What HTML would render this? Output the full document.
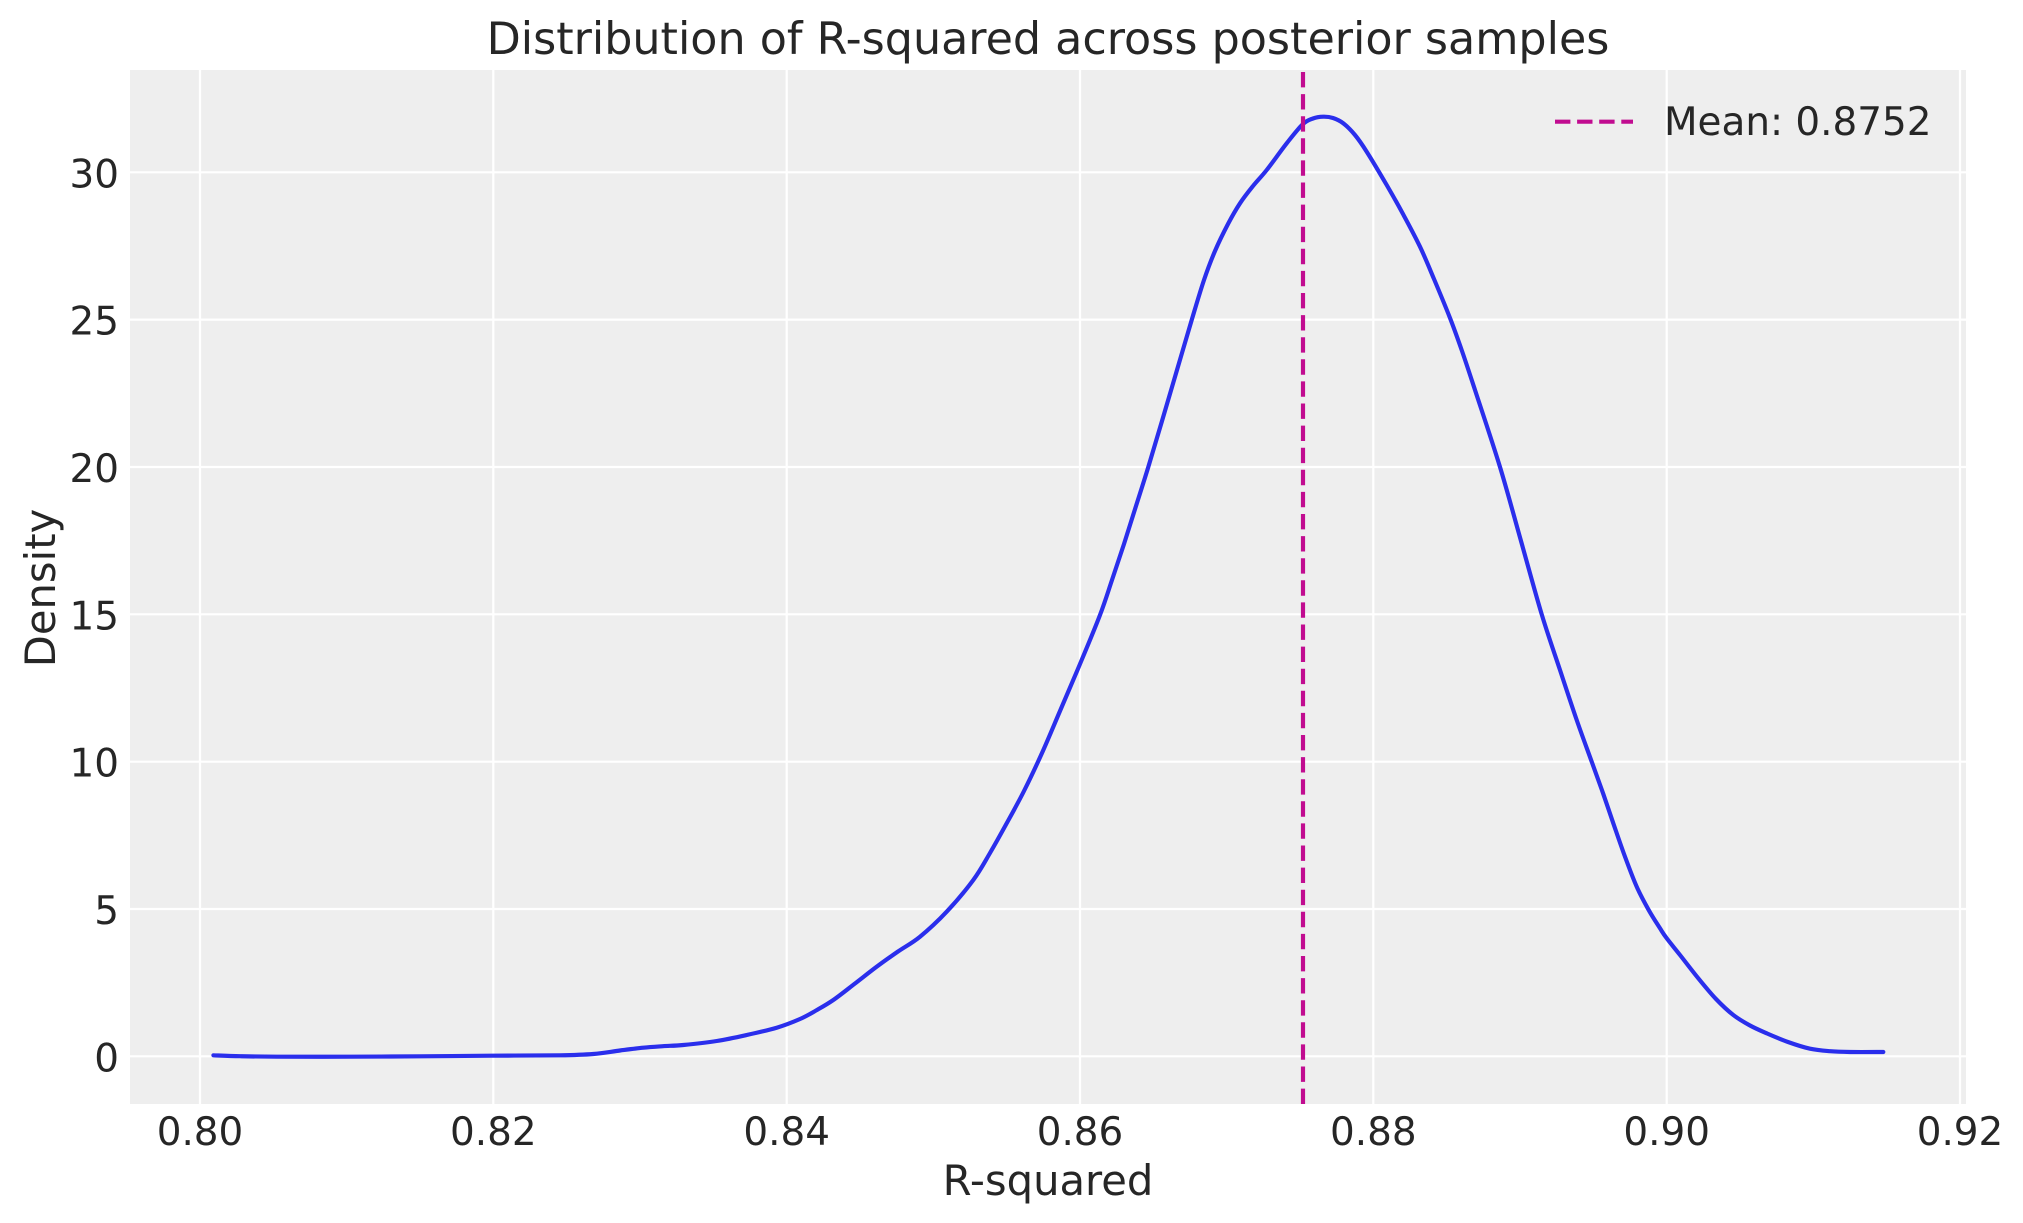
<!DOCTYPE html>
<html>
<head>
<meta charset="utf-8">
<style>
  html, body { margin: 0; padding: 0; background: #ffffff; }
  svg { display: block; }
  text { font-family: "DejaVu Sans", "Liberation Sans", sans-serif; fill: #262626; }
</style>
</head>
<body>
<svg id="chart" width="2023" height="1223" viewBox="0 0 2023 1223" xmlns="http://www.w3.org/2000/svg">
  <rect x="0" y="0" width="2023" height="1223" fill="#ffffff"/>
  <defs>
    <clipPath id="ax">
      <rect x="130" y="70" width="1836" height="1034"/>
    </clipPath>
  </defs>
  <!-- axes background -->
  <rect x="130" y="70" width="1836" height="1034" fill="#eeeeee"/>
  <g clip-path="url(#ax)">
    <!-- grid -->
    <g stroke="#ffffff" stroke-width="2.2">
      <line x1="200" y1="70" x2="200" y2="1104"/>
      <line x1="493.3" y1="70" x2="493.3" y2="1104"/>
      <line x1="786.7" y1="70" x2="786.7" y2="1104"/>
      <line x1="1080" y1="70" x2="1080" y2="1104"/>
      <line x1="1373.3" y1="70" x2="1373.3" y2="1104"/>
      <line x1="1666.7" y1="70" x2="1666.7" y2="1104"/>
      <line x1="1960" y1="70" x2="1960" y2="1104"/>
      <line x1="130" y1="1056.3" x2="1966" y2="1056.3"/>
      <line x1="130" y1="909" x2="1966" y2="909"/>
      <line x1="130" y1="761.7" x2="1966" y2="761.7"/>
      <line x1="130" y1="614.3" x2="1966" y2="614.3"/>
      <line x1="130" y1="467" x2="1966" y2="467"/>
      <line x1="130" y1="319.6" x2="1966" y2="319.6"/>
      <line x1="130" y1="172.3" x2="1966" y2="172.3"/>
    </g>
    <!-- KDE curve -->
    <polyline id="kde" fill="none" stroke="#2a2eec" stroke-width="4.17" stroke-linejoin="round" stroke-linecap="round"
      points="213.4,1055.3 240,1056.2 276.8,1056.7 350,1056.7 420,1056.3 491,1055.7 560,1055.3 593.3,1054 620,1050.5 643.3,1047.7 663,1046.2 683.3,1045 716.7,1041 746.7,1035 776.7,1027.7 800,1019 816,1010.5 833.3,1000 855,983.5 876.7,966.7 898,951.5 920,936.7 946.7,911.7 973.3,880 990,853 1006.7,823.3 1024,791 1042,753 1060,711 1080,664 1100,615 1112,580 1124,544 1136,506 1148.3,467 1162,421 1176.7,371 1191.7,320 1204,280 1215,251 1228,224 1240,203.3 1253,186 1266.7,170 1286.7,143.3 1302.7,124.3 1313,118.5 1323.3,116.7 1333,118 1343.3,123.3 1355,135 1366.7,151.7 1386.7,185 1403,214 1420,246.7 1434,279 1450,318 1462,351 1475,390 1500,467 1521,541 1541.7,614.3 1560,670 1576.7,720 1591.7,761.7 1603.3,794 1613.3,823.3 1625,856.7 1636.7,886.7 1648.3,909.3 1660,928.3 1666.7,938.3 1680,955 1698.3,978.3 1716,999 1733.3,1015 1750,1025.5 1766.7,1033.3 1788,1042 1810,1048.7 1830,1051.2 1850,1052 1883.3,1052"/>
    <!-- mean line -->
    <line x1="1303" y1="1104" x2="1303" y2="70" stroke="#c10c90" stroke-width="4.17" stroke-dasharray="15.4 6.7"/>
  </g>

  <!-- legend -->
  <line x1="1555" y1="121.7" x2="1633" y2="121.7" stroke="#c10c90" stroke-width="4.17" stroke-dasharray="15.4 6.7"/>
  <text x="1664" y="135" font-size="38.9">Mean: 0.8752</text>

  <!-- title -->
  <text x="1048" y="54" font-size="44.4" text-anchor="middle">Distribution of R-squared across posterior samples</text>

  <!-- y tick labels -->
  <g font-size="38.9" text-anchor="end">
    <text x="119" y="1071.3">0</text>
    <text x="119" y="924">5</text>
    <text x="119" y="776.7">10</text>
    <text x="119" y="629.3">15</text>
    <text x="119" y="482">20</text>
    <text x="119" y="334.6">25</text>
    <text x="119" y="187.3">30</text>
  </g>

  <!-- x tick labels -->
  <g font-size="38.9" text-anchor="middle">
    <text x="200" y="1145">0.80</text>
    <text x="493.3" y="1145">0.82</text>
    <text x="786.7" y="1145">0.84</text>
    <text x="1080" y="1145">0.86</text>
    <text x="1373.3" y="1145">0.88</text>
    <text x="1666.7" y="1145">0.90</text>
    <text x="1960" y="1145">0.92</text>
  </g>

  <!-- axis labels -->
  <text x="1048" y="1195" font-size="41.7" text-anchor="middle">R-squared</text>
  <text transform="translate(55,588) rotate(-90)" font-size="41.7" text-anchor="middle">Density</text>
</svg>
<script>
(function(){
  var pl = document.getElementById('kde');
  if (!pl) return;
  var pts = pl.getAttribute('points').trim().split(/\s+/).map(function(s){ return s.split(',').map(Number); });
  var d = 'M' + pts[0][0] + ',' + pts[0][1];
  var t = 1/6;
  for (var i = 0; i < pts.length - 1; i++) {
    var p0 = pts[i-1] || pts[i], p1 = pts[i], p2 = pts[i+1], p3 = pts[i+2] || pts[i+1];
    var c1x = p1[0] + (p2[0]-p0[0])*t, c1y = p1[1] + (p2[1]-p0[1])*t;
    var c2x = p2[0] - (p3[0]-p1[0])*t, c2y = p2[1] - (p3[1]-p1[1])*t;
    d += ' C' + c1x.toFixed(2) + ',' + c1y.toFixed(2) + ' ' + c2x.toFixed(2) + ',' + c2y.toFixed(2) + ' ' + p2[0] + ',' + p2[1];
  }
  var p = document.createElementNS('http://www.w3.org/2000/svg', 'path');
  p.setAttribute('d', d);
  p.setAttribute('fill', 'none');
  p.setAttribute('stroke', '#2a2eec');
  p.setAttribute('stroke-width', '4.17');
  p.setAttribute('stroke-linejoin', 'round');
  p.setAttribute('stroke-linecap', 'round');
  pl.parentNode.replaceChild(p, pl);
})();
</script>
</body>
</html>
